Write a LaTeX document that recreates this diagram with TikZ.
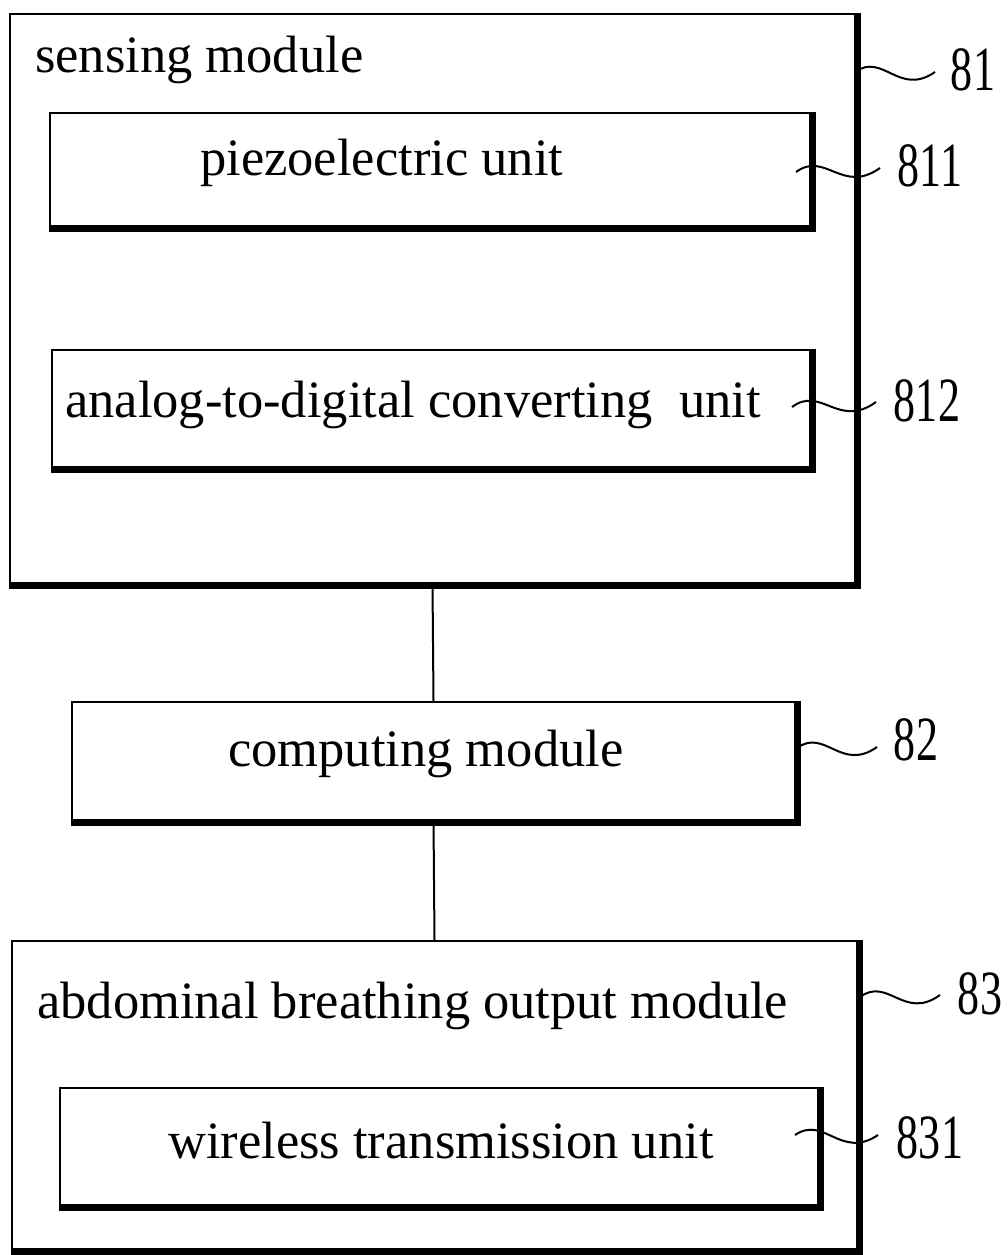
\documentclass[tikz,border=0pt]{standalone}
\usepackage{fontspec}
\setmainfont{Liberation Serif}
\usetikzlibrary{calc}
\tikzset{>=latex}
\tikzset{
  box/.style 2 args={draw, line width=2pt, minimum width=#1, minimum height=#2, inner sep=0pt},
  txt/.style={anchor=base west, inner sep=0pt, font=\fontsize{52.5}{60}\selectfont},
  num/.style={inner sep=0pt, xscale=0.7, font=\fontsize{63}{63}\selectfont},
  leader/.style={line width=2pt}
}
\newcommand{\boxshadow}[1]{\draw[line width=6pt] ([xshift=2pt]#1.north east) -- ([xshift=2pt,yshift=-2pt]#1.south east) -- ([yshift=-2pt]#1.south west);}
\newcommand{\squig}[2]{\draw[leader] (#1) .. controls ($(#1)!0.35!(#2)+(0,-20)$) and ($(#1)!0.55!(#2)+(0,25)$) .. (#2);}

\begin{document}
\begin{tikzpicture}[x=1pt, y=-1pt]
\useasboundingbox (0,0) rectangle (1008,1255);

\node[box={845pt}{569pt}] (sense) at (432.5,298.5) {};
\node[box={760pt}{113pt}] (piezo) at (430,169.5) {};
\node[box={758pt}{117pt}] (adc) at (431,408.5) {};
\node[box={723pt}{118pt}] (comp) at (433.5,761) {};
\node[box={845pt}{308pt}] (abd) at (434.5,1095) {};
\node[box={758pt}{117pt}] (wless) at (439,1146.5) {};
\foreach \b in {sense, piezo, adc, comp, abd, wless}{
\boxshadow{\b}
}

\node[txt] (tsense) at (35,72) {sensing module};
\node[txt] (tpiezo) at (200,175) {piezoelectric unit};
\node[txt] (tadc) at (65,417) {analog-to-digital converting\ \ unit};
\node[txt] (tcomp) at (228,766) {computing module};
\node[txt] (tabd) at (37,1018) {abdominal breathing output module};
\node[txt] (twless) at (168,1158) {wireless transmission unit};

\draw[line width=2pt] (sense.south) -- (comp.north);
\draw[line width=2pt] (comp.south) -- (abd.north);

\node[num] (n81) at (973,70) {81};
\node[num] (n811) at (930,166) {811};
\node[num] (n812) at (927,401) {812};
\node[num] (n82) at (916,740) {82};
\node[num] (n83) at (980,994) {83};
\node[num] (n831) at (930,1138) {831};

\coordinate (s81) at (855,72);
\coordinate (e81) at (935,72);
\coordinate (s811) at (796,172);
\coordinate (e811) at (880,168);
\coordinate (s812) at (792,407);
\coordinate (e812) at (876,402);
\coordinate (s82) at (797,748);
\coordinate (e82) at (877,747);
\coordinate (s83) at (860,997);
\coordinate (e83) at (940,995);
\coordinate (s831) at (795,1135);
\coordinate (e831) at (878,1135);
\foreach \n in {81, 811, 812, 82, 83, 831}{
\squig{s\n}{e\n}
}
\end{tikzpicture}
\end{document}
